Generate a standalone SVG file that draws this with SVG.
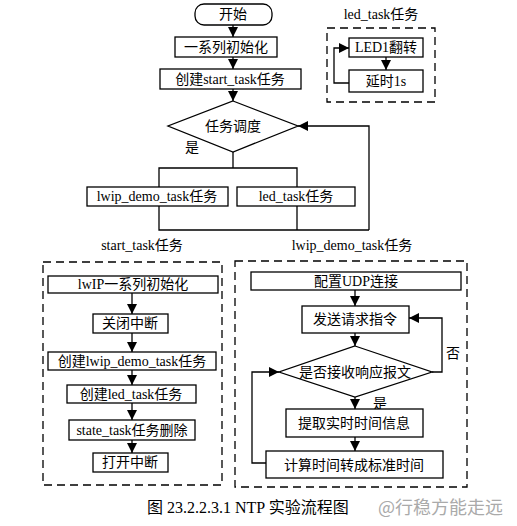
<svg xmlns="http://www.w3.org/2000/svg" width="517" height="526" viewBox="0 0 517 526">
<defs>
<marker id="ah" markerUnits="userSpaceOnUse" markerWidth="10" markerHeight="10" viewBox="0 0 10 10" refX="10" refY="5" orient="auto">
<path d="M0,0 L10,5 L0,10 z" fill="#000"/>
</marker>
<style>
.b{fill:#fff;stroke:#000;stroke-width:1.3}
.d{fill:none;stroke:#000;stroke-width:1.3;stroke-dasharray:8,5}
.c{fill:none;stroke:#000;stroke-width:1.3}
.a{marker-end:url(#ah)}
text{font-family:"Liberation Serif","Noto Sans CJK SC",serif;font-size:14px;fill:#000;text-anchor:middle}
.l{text-anchor:start}
</style>
</defs>
<rect width="517" height="526" fill="#fff"/>

<g id="start"><rect class="b" x="195" y="4" width="77" height="21" rx="9"/><text x="233" y="19">开始</text></g>
<g id="init"><rect class="b" x="175" y="37" width="102" height="20"/><text x="226" y="52">一系列初始化</text></g>
<g id="create-start"><rect class="b" x="160" y="69" width="141" height="20"/><text x="230" y="84">创建start_task任务</text></g>
<g id="sched"><polygon class="b" points="233,101 298,126 233,152 168,126"/><text x="233" y="131">任务调度</text><text x="192" y="152">是</text></g>
<g id="lwip-task"><rect class="b" x="87" y="187" width="141" height="19"/><text x="157" y="201">lwip_demo_task任务</text></g>
<g id="led-task"><rect class="b" x="237" y="187" width="118" height="19"/><text x="296" y="201">led_task任务</text></g>

<g id="led-group">
<text x="381" y="19">led_task任务</text>
<rect class="d" x="327" y="28" width="108" height="74"/>
<g id="led1"><rect class="b" x="349" y="38" width="74" height="19"/><text x="386" y="52">LED1翻转</text></g>
<g id="delay"><rect class="b" x="349" y="70" width="74" height="22"/><text x="386" y="86">延时1s</text></g>
</g>

<g id="start-group">
<text x="142" y="250">start_task任务</text>
<rect class="d" x="43" y="262" width="179" height="223"/>
<g id="s1"><rect class="b" x="48" y="276" width="170" height="17"/><text x="133" y="289">lwIP一系列初始化</text></g>
<g id="s2"><rect class="b" x="93" y="314" width="75" height="19"/><text x="130" y="328">关闭中断</text></g>
<g id="s3"><rect class="b" x="48" y="352" width="168" height="18"/><text x="132" y="366">创建lwip_demo_task任务</text></g>
<g id="s4"><rect class="b" x="67" y="385" width="129" height="18"/><text x="131" y="399">创建led_task任务</text></g>
<g id="s5"><rect class="b" x="69" y="420" width="126" height="20"/><text x="132" y="435">state_task任务删除</text></g>
<g id="s6"><rect class="b" x="93" y="453" width="75" height="19"/><text x="130" y="467">打开中断</text></g>
</g>

<g id="lwip-group">
<text x="352" y="250">lwip_demo_task任务</text>
<rect class="d" x="235" y="261" width="232" height="226"/>
<g id="l1"><rect class="b" x="251" y="272" width="210" height="18"/><text x="356" y="286">配置UDP连接</text></g>
<g id="l2"><rect class="b" x="302" y="306" width="107" height="27"/><text x="355" y="324">发送请求指令</text></g>
<g id="l3"><polygon class="b" points="355,346 432,372 355,397 279,372"/><text x="355" y="377">是否接收响应报文</text><text x="453" y="358">否</text><text x="380" y="408">是</text></g>
<g id="l4"><rect class="b" x="286" y="409" width="137" height="28"/><text x="354" y="428">提取实时时间信息</text></g>
<g id="l5"><rect class="b" x="266" y="451" width="177" height="27"/><text x="354" y="470">计算时间转成标准时间</text></g>
</g>

<g id="connectors">
<line class="c a" x1="233" y1="25" x2="233" y2="37"/>
<line class="c a" x1="233" y1="57" x2="233" y2="69"/>
<line class="c a" x1="233" y1="89" x2="233" y2="101"/>
<polyline class="c" points="233,152 233,168"/>
<polyline class="c" points="159,187 159,168 297,168 297,187"/>
<polyline class="c" points="159,206 159,230 369,230"/>
<line class="c" x1="297" y1="206" x2="297" y2="230"/>
<polyline class="c a" points="369,230 369,126 298,126"/>
<line class="c a" x1="386" y1="57" x2="386" y2="70"/>
<polyline class="c a" points="349,83 334,83 334,48 349,48"/>
<line class="c a" x1="132" y1="293" x2="132" y2="314"/>
<line class="c a" x1="132" y1="333" x2="132" y2="352"/>
<line class="c a" x1="132" y1="370" x2="132" y2="385"/>
<line class="c a" x1="132" y1="403" x2="132" y2="420"/>
<line class="c a" x1="132" y1="440" x2="132" y2="453"/>
<line class="c a" x1="355" y1="290" x2="355" y2="306"/>
<line class="c a" x1="355" y1="333" x2="355" y2="346"/>
<polyline class="c a" points="432,372 442,372 442,318 409,318"/>
<line class="c a" x1="355" y1="397" x2="355" y2="409"/>
<line class="c a" x1="355" y1="437" x2="355" y2="451"/>
<polyline class="c a" points="266,463 252,463 252,372 279,372"/>
</g>

<text class="l" x="147" y="513" style="font-size:16px">图 23.2.2.3.1 NTP 实验流程图</text>
<text x="503" y="514" style="font-size:18px;fill:#aaa;text-anchor:end;font-family:'Noto Sans CJK SC',sans-serif">@行稳方能走远</text>
</svg>
